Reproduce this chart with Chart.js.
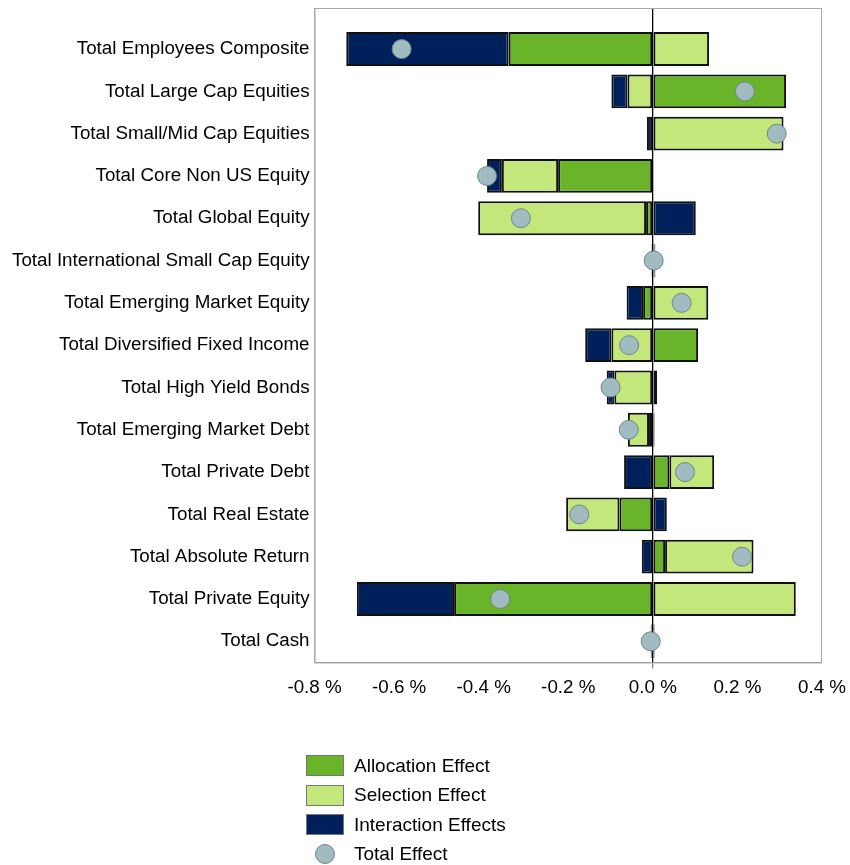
<!DOCTYPE html>
<html>
<head>
<meta charset="utf-8">
<script src="https://cdn.jsdelivr.net/npm/chart.js@4/dist/chart.umd.min.js"></script>
<style>
  html, body { margin: 0; padding: 0; background: #fff; }
  #wrap { position: relative; width: 850px; height: 865px; }
  #legend { position: absolute; left: 306px; top: 751px; font-family: "Liberation Sans", Arial, sans-serif; font-size: 19px; color: #000; }
  .li { display: flex; align-items: center; height: 29.5px; }
  .sw { width: 36px; height: 19px; border: 1px solid #777; margin-right: 10px; box-sizing: content-box; }
  .dot { width: 18px; height: 18px; border-radius: 50%; border: 1px solid #6f8588; margin: 0 19px 0 9px; }
</style>
</head>
<body>
<div id="wrap">
  <canvas id="c" width="850" height="865"></canvas>
  <div id="legend"></div>
</div>
<script>
const categories = [
  "Total Employees Composite",
  "Total Large Cap Equities",
  "Total Small/Mid Cap Equities",
  "Total Core Non US Equity",
  "Total Global Equity",
  "Total International Small Cap Equity",
  "Total Emerging Market Equity",
  "Total Diversified Fixed Income",
  "Total High Yield Bonds",
  "Total Emerging Market Debt",
  "Total Private Debt",
  "Total Real Estate",
  "Total Absolute Return",
  "Total Private Equity",
  "Total Cash"
];
const allocationEffect  = [-0.341,  0.315,  0.000, -0.224, -0.016,  0.004, -0.023,  0.107,  0.010, -0.009,  0.039, -0.079,  0.029, -0.470, -0.003];
const selectionEffect   = [ 0.133, -0.060,  0.309, -0.133, -0.397,  0.002,  0.131, -0.098, -0.091, -0.050,  0.106, -0.126,  0.209,  0.338,  0.004];
const interactionEffect = [-0.384, -0.038, -0.014, -0.035,  0.1015, -0.003, -0.039, -0.062, -0.018,  0.004, -0.068,  0.033, -0.026, -0.230, -0.002];
const totalEffect       = [-0.594,  0.2175, 0.293, -0.392, -0.312,  0.002,  0.068, -0.056, -0.100, -0.057,  0.076, -0.174,  0.211, -0.361, -0.005];
const xTicks = [-0.8, -0.6, -0.4, -0.2, 0.0, 0.2, 0.4];
const seriesNames = ["Allocation Effect", "Selection Effect", "Interaction Effects", "Total Effect"];

const colors = {
  alloc: "#6ab42a",
  sel: "#c3e77a",
  inter: "#00205c",
  dot: "#a0bcc0",
  dotBorder: "#6f8588"
};

const toPts = arr => arr.map((v, i) => ({ x: v, y: i }));

const frame = {
  id: "frame",
  beforeDatasetsDraw(chart) {
    const { ctx, chartArea: a } = chart;
    ctx.save();
    ctx.strokeStyle = "#a8a8a8";
    ctx.lineWidth = 1;
    ctx.strokeRect(a.left + 0.5, a.top + 0.5, a.right - a.left - 1, a.bottom - a.top);
    ctx.restore();
  }
};

const font = { family: '"Liberation Sans", Arial, sans-serif', size: 18.8 };

const chart = new Chart(document.getElementById("c"), {
  type: "bar",
  plugins: [frame],
  data: {
    datasets: [
      { label: seriesNames[0], data: toPts(allocationEffect), backgroundColor: colors.alloc, borderColor: "#111", borderWidth: 2, borderSkipped: false, categoryPercentage: 1, barPercentage: 0.8 },
      { label: seriesNames[1], data: toPts(selectionEffect), backgroundColor: colors.sel, borderColor: "#111", borderWidth: 2, borderSkipped: false, categoryPercentage: 1, barPercentage: 0.8 },
      { label: seriesNames[2], data: toPts(interactionEffect), backgroundColor: colors.inter, borderColor: "#111", borderWidth: 2, borderSkipped: false, categoryPercentage: 1, barPercentage: 0.8 },
      { type: "scatter", label: seriesNames[3], data: toPts(totalEffect), indexAxis: "y", order: -1, pointRadius: 9.5, pointBackgroundColor: colors.dot, pointBorderColor: colors.dotBorder, pointBorderWidth: 1, showLine: false, clip: false }
    ]
  },
  options: {
    indexAxis: "y",
    responsive: false,
    animation: false,
    layout: { autoPadding: false, padding: { top: 8, right: 28, bottom: 158, left: 12 } },
    plugins: { legend: { display: false }, tooltip: { enabled: false } },
    scales: {
      x: {
        type: "linear",
        stacked: true,
        min: -0.8, max: 0.4,
        afterBuildTicks: s => { s.ticks = xTicks.map(v => ({ value: v })); },
        afterFit: s => { s.paddingRight = 0; },
        ticks: { font, color: "#000", padding: 8, callback: v => Number(v).toFixed(1) + " %" },
        grid: {
          drawOnChartArea: true,
          color: c => (c.tick && Math.abs(c.tick.value) < 1e-9) ? "#000" : "rgba(0,0,0,0)",
          lineWidth: c => (c.tick && Math.abs(c.tick.value) < 1e-9) ? 1.3 : 0,
          tickColor: "#888",
          tickLength: 6,
          drawTicks: true
        },
        border: { display: true, color: "#888", width: 1 }
      },
      y: {
        type: "linear",
        stacked: true,
        reverse: true,
        offset: false,
        min: -0.97, max: 14.5,
        afterBuildTicks: s => { s.ticks = categories.map((_, i) => ({ value: i })); },
        ticks: { font: { ...font, lineHeight: 0.55 }, color: "#000", padding: 0, autoSkip: false, callback: (v) => categories[v] },
        grid: { display: true, drawOnChartArea: false, drawTicks: true, tickLength: 5, tickColor: "rgba(0,0,0,0)", offset: false },
        border: { display: true, color: "#a8a8a8", width: 1 }
      }
    }
  }
});

const legend = document.getElementById("legend");
const legendColors = [colors.alloc, colors.sel, colors.inter];
seriesNames.forEach((name, i) => {
  const row = document.createElement("div");
  row.className = "li";
  const mark = document.createElement("div");
  if (i < 3) { mark.className = "sw"; mark.style.background = legendColors[i]; }
  else { mark.className = "dot"; mark.style.background = colors.dot; }
  const txt = document.createElement("span");
  txt.textContent = name;
  row.appendChild(mark);
  row.appendChild(txt);
  legend.appendChild(row);
});
</script>
</body>
</html>
